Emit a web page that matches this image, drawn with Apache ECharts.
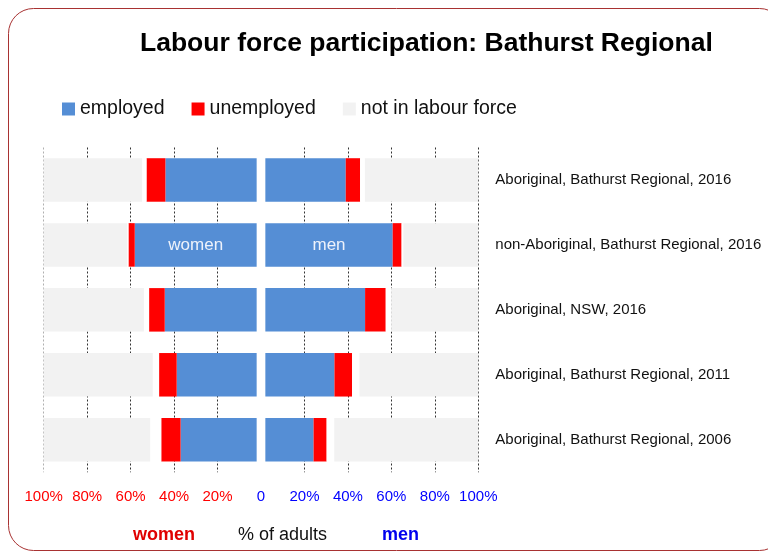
<!DOCTYPE html>
<html>
<head>
<meta charset="utf-8">
<title>Labour force participation: Bathurst Regional</title>
<script src="https://cdn.jsdelivr.net/npm/echarts@6/dist/echarts.min.js"></script>
<style>
  html, body { margin: 0; padding: 0; background: #fff; }
  #chart { width: 768px; height: 553px; }
</style>
</head>
<body>
<div id="chart"></div>
<script>
// rows, top to bottom
const categories = [
  'Aboriginal, Bathurst Regional, 2016',
  'non-Aboriginal, Bathurst Regional, 2016',
  'Aboriginal, NSW, 2016',
  'Aboriginal, Bathurst Regional, 2011',
  'Aboriginal, Bathurst Regional, 2006'
];

// % of adults, as plotted (blank = status not stated)
const womenEmployed   = [42.0, 56.1, 42.3, 36.8, 35.0];
const womenUnemployed = [8.7, 2.9, 7.2, 8.1, 8.9];
const womenNotStated  = [2.0, 0.6, 2.4, 2.9, 5.1];
const womenNotInLF    = [45.3, 38.4, 46.1, 50.2, 49.0];

const menEmployed   = [37.0, 58.6, 45.9, 31.8, 22.2];
const menUnemployed = [6.6, 4.1, 9.5, 8.1, 6.0];
const menNotStated  = [2.2, 0.8, 2.5, 3.4, 3.5];
const menNotInLF    = [52.2, 34.5, 40.1, 54.7, 66.3];

const tickValues = [-100, -80, -60, -40, -20, 0, 20, 40, 60, 80, 100];

// white gap either side of zero
const spacer = 2;

const BLUE = '#558ed5';
const RED = '#ff0000';
const GREY = '#f2f2f2';

let chart = echarts.init(document.getElementById('chart'));

function neg(arr) {
  return arr.map(v => -v);
}

function bar(name, stack, data, color) {
  return {
    name: name,
    type: 'bar',
    stack: stack,
    data: data,
    barWidth: '67%',
    barGap: '-100%',
    silent: true,
    itemStyle: { color: color },
    emphasis: { disabled: true }
  };
}

const spacerRow = categories.map(() => spacer);

let womenEmp = bar('employed', 'women', neg(womenEmployed).map((v, i) => i === 1 ? {
  value: v,
  label: { show: true, position: 'inside', formatter: 'women', color: '#eef2fb', fontSize: 17 }
} : v), BLUE);

let menEmp = bar('employed', 'men', menEmployed.map((v, i) => i === 1 ? {
  value: v,
  label: { show: true, position: 'inside', formatter: 'men', color: '#eef2fb', fontSize: 17 }
} : v), BLUE);

// grid line colours: faint at -100, none at 0
const splitColors = tickValues.map(v => v === -100 ? '#b0b0b0' : (v === 0 ? 'rgba(0,0,0,0)' : '#333'));

let option = {
  backgroundColor: '#fff',
  textStyle: { fontFamily: 'Liberation Sans, Arial, sans-serif' },
  animation: false,
  title: {
    text: 'Labour force participation: Bathurst Regional',
    left: 135,
    top: 25,
    textStyle: { fontSize: 26.5, fontWeight: 'bold', color: '#000' }
  },
  legend: {
    data: ['employed', 'unemployed', 'not in labour force'],
    left: 57,
    top: 94,
    itemWidth: 13,
    itemHeight: 13,
    itemGap: 27,
    icon: 'rect',
    textStyle: { fontSize: 19.5, color: '#111' }
  },
  grid: {
    left: 43.7,
    right: 289.7,
    top: 147.5,
    bottom: 80.8,
    containLabel: false
  },
  xAxis: {
    type: 'value',
    min: -100,
    max: 100,
    interval: 20,
    axisLine: { show: false },
    axisTick: { show: false },
    splitLine: {
      show: true,
      lineStyle: { color: splitColors, type: [2, 2], width: 1 }
    },
    axisLabel: {
      margin: 17,
      fontSize: 15,
      formatter: function (v) {
        if (v === 0) return '{m|0}';
        return v < 0 ? '{w|' + (-v) + '%}' : '{m|' + v + '%}';
      },
      rich: {
        w: { color: RED, fontSize: 15 },
        m: { color: '#0000ff', fontSize: 15 }
      }
    }
  },
  yAxis: {
    type: 'category',
    data: categories,
    inverse: true,
    position: 'right',
    axisLine: { show: false },
    axisTick: { show: false },
    splitLine: { show: false },
    axisLabel: { margin: 17, fontSize: 15, color: '#111' }
  },
  series: [
    bar('gapW', 'women', neg(spacerRow), '#fff'),
    womenEmp,
    bar('unemployed', 'women', neg(womenUnemployed), RED),
    bar('notStatedW', 'women', neg(womenNotStated), '#fff'),
    bar('not in labour force', 'women', neg(womenNotInLF), GREY),
    bar('gapM', 'men', spacerRow, '#fff'),
    menEmp,
    bar('unemployed', 'men', menUnemployed, RED),
    bar('notStatedM', 'men', menNotStated, '#fff'),
    bar('not in labour force', 'men', menNotInLF, GREY)
  ],
  graphic: [
    {
      type: 'rect',
      shape: { x: 8.5, y: 8.5, width: 776, height: 542, r: 25 },
      style: { fill: 'none', stroke: '#a83232', lineWidth: 1 },
      silent: true
    },
    {
      type: 'text', left: 133, top: 526,
      style: { text: 'women', fill: '#e00000', font: 'bold 18px Liberation Sans, Arial, sans-serif' }
    },
    {
      type: 'text', left: 238, top: 526,
      style: { text: '% of adults', fill: '#111', font: '18px Liberation Sans, Arial, sans-serif' }
    },
    {
      type: 'text', left: 382, top: 526,
      style: { text: 'men', fill: '#0000ee', font: 'bold 18px Liberation Sans, Arial, sans-serif' }
    }
  ]
};

option && chart.setOption(option);
</script>
</body>
</html>
